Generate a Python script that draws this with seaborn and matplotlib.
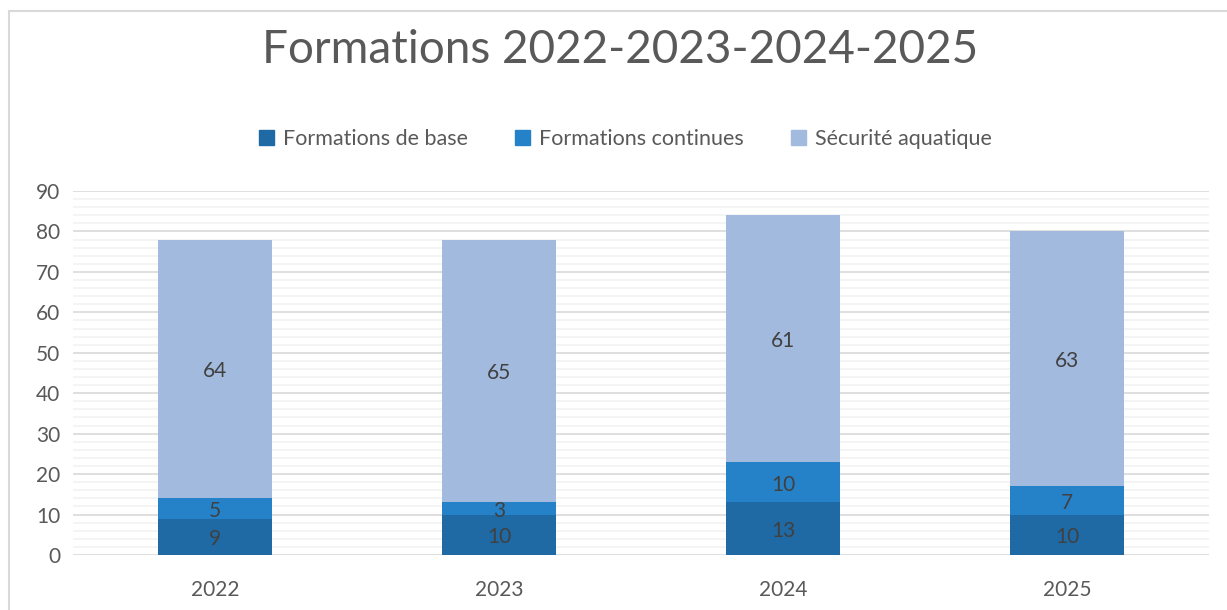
import pandas as pd
import seaborn as sns
import matplotlib.pyplot as plt
from matplotlib.patches import Rectangle, Patch
from matplotlib.ticker import MultipleLocator

sns.set_theme(style="white")
plt.rcParams['font.family'] = ['Lato', 'DejaVu Sans']

# Données
annees = ["2022", "2023", "2024", "2025"]
formations_base = [9, 10, 13, 10]
formations_continues = [5, 3, 10, 7]
securite_aquatique = [64, 65, 61, 63]

series = ["Formations de base", "Formations continues", "Sécurité aquatique"]
couleurs = ["#1F6AA5", "#2682C8", "#A2BADD"]
valeurs = [formations_base, formations_continues, securite_aquatique]

fig = plt.figure(figsize=(12.27, 6.10), dpi=100)
ax = fig.add_axes([73 / 1227, 1 - 555 / 610, (1209 - 73) / 1227, (555 - 191) / 610])

# Cadre du graphique
fig.patches.append(Rectangle((9 / 1227, -0.1), 1.2, 1 - 11 / 610 + 0.1,
                             transform=fig.transFigure, fill=False,
                             edgecolor="#D9D9D9", linewidth=1.5))

bas = [0] * len(annees)
for nom, col, vals in zip(series, couleurs, valeurs):
    df = pd.DataFrame({"annee": annees, "valeur": vals})
    sns.barplot(data=df, x="annee", y="valeur", color=col, width=0.4,
                saturation=1, bottom=bas, ax=ax, zorder=3, linewidth=0)
    for i, v in enumerate(vals):
        ax.text(i, bas[i] + v / 2 - 0.6, str(v), ha="center", va="center",
                fontsize=15, color="#404040", zorder=4)
    bas = [b + v for b, v in zip(bas, vals)]

ax.set_xlim(-0.5, 3.5)
ax.set_ylim(0, 90)
ax.yaxis.set_major_locator(MultipleLocator(10))
ax.yaxis.set_minor_locator(MultipleLocator(2))
ax.grid(which="minor", axis="y", color="#F2F2F2", linewidth=1.2, zorder=0)
ax.grid(which="major", axis="y", color="#D9D9D9", linewidth=1.2, zorder=1)
ax.set_axisbelow(True)
for s in ax.spines.values():
    s.set_visible(False)
ax.set_xlabel("")
ax.set_ylabel("")
ax.tick_params(axis="both", length=0, labelsize=15, colors="#595959")
ax.tick_params(axis="x", pad=18)
ax.tick_params(axis="y", pad=9)

fig.text(0.5 + 7 / 1227, 1 - 50 / 610, "Formations 2022-2023-2024-2025", ha="center",
         va="center", fontsize=33, color="#595959")

handles = [Patch(facecolor=c, edgecolor=c) for c in couleurs]
fig.legend(handles, series, loc="center", bbox_to_anchor=(0.5 + 12 / 1227, 1 - 139 / 610),
           ncol=3, frameon=False, fontsize=15.5, labelcolor="#595959",
           handlelength=0.7, handleheight=0.7, handletextpad=0.4, columnspacing=2.2)

fig.savefig("out.png", dpi=100)
